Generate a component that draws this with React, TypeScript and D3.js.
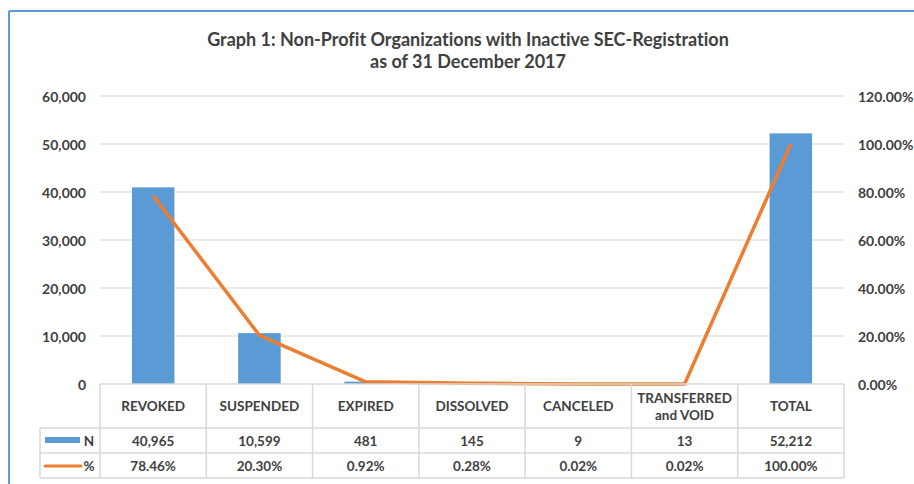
import React from "react";
import * as d3 from "d3";

const categories = ["REVOKED", "SUSPENDED", "EXPIRED", "DISSOLVED", "CANCELED", "TRANSFERRED and VOID", "TOTAL"];
const countValues = [40965, 10599, 481, 145, 9, 13, 52212];
const percentValues = [78.46, 20.3, 0.92, 0.28, 0.02, 0.02, 100.0];
const leftTicks = [0, 10000, 20000, 30000, 40000, 50000, 60000];
const rightTicks = [0, 20, 40, 60, 80, 100, 120];

const W = 914;
const H = 484;
const FONT = "Lato, 'Open Sans', sans-serif";
const TEXT = "#404040";
const GRID = "#d9d9d9";
const BLUE = "#5b9bd5";
const ORANGE = "#ed7d31";

const App = () => {
  const plotLeft = 100;
  const plotRight = 844;
  const plotTop = 96;
  const plotBottom = 384;
  const headerBottom = 428;
  const row1Bottom = 453;
  const row2Bottom = 478;
  const legendLeft = 40;

  const x = d3.scaleBand().domain(categories).range([plotLeft, plotRight]);
  const yLeft = d3.scaleLinear().domain([0, 60000]).range([plotBottom, plotTop]);
  const yRight = d3.scaleLinear().domain([0, 120]).range([plotBottom, plotTop]);
  const barW = x.bandwidth() * 0.4;
  const cx = (c: string) => (x(c) as number) + x.bandwidth() / 2;

  const line = d3
    .line<number>()
    .x((_, i) => cx(categories[i]))
    .y((d) => yRight(d));

  const fmtN = d3.format(",");
  const fmtP = (v: number) => v.toFixed(2) + "%";

  const cellText = (label: string, xc: number, y0: number, y1: number) => {
    const parts = label === "TRANSFERRED and VOID" ? ["TRANSFERRED", "and VOID"] : [label];
    const mid = (y0 + y1) / 2;
    const lh = 17;
    return parts.map((p, i) => (
      <text
        key={i}
        x={xc}
        y={mid + (i - (parts.length - 1) / 2) * lh}
        textAnchor="middle"
        dominantBaseline="central"
        fontSize={13.5}
        fontWeight="bold"
        fill={TEXT}
      >
        {p}
      </text>
    ));
  };

  return (
    <div style={{ position: "fixed", left: 0, top: 0 }}>
      <svg width={W} height={H} style={{ display: "block", fontFamily: FONT, fontVariantLigatures: "none" }}>
        <rect x={0} y={0} width={W} height={H} fill="#fff" />
        {/* outer chart border */}
        <line x1={9} y1={11} x2={W} y2={11} stroke={BLUE} strokeWidth={2} />
        <line x1={9} y1={11} x2={9} y2={H} stroke={BLUE} strokeWidth={2} />

        {/* title */}
        <text x={468} y={46} textAnchor="middle" fontSize={18} fontWeight="bold" fill={TEXT}>
          Graph 1: Non-Profit Organizations with Inactive SEC-Registration
        </text>
        <text x={468} y={68} textAnchor="middle" fontSize={18} fontWeight="bold" fill={TEXT}>
          as of 31 December 2017
        </text>

        {/* gridlines */}
        {leftTicks.slice(1).map((t) => (
          <line key={t} x1={plotLeft} x2={plotRight} y1={yLeft(t)} y2={yLeft(t)} stroke={GRID} strokeWidth={1} />
        ))}

        {/* left axis labels */}
        {leftTicks.map((t) => (
          <text key={t} x={86} y={yLeft(t)} textAnchor="end" dominantBaseline="central" fontSize={14} fontWeight="bold" fill={TEXT}>
            {fmtN(t)}
          </text>
        ))}

        {/* right axis labels */}
        {rightTicks.map((t) => (
          <text key={t} x={858} y={yRight(t)} textAnchor="start" dominantBaseline="central" fontSize={14} fontWeight="bold" fill={TEXT}>
            {t.toFixed(2) + "%"}
          </text>
        ))}

        {/* bars */}
        {countValues.map((v, i) => (
          <rect
            key={i}
            x={cx(categories[i]) - barW / 2}
            y={yLeft(v)}
            width={barW}
            height={plotBottom - yLeft(v)}
            fill={BLUE}
          />
        ))}

        {/* line */}
        <path d={line(percentValues) || ""} fill="none" stroke={ORANGE} strokeWidth={3.5} strokeLinejoin="round" />

        {/* data table */}
        <g stroke={GRID} strokeWidth={1.5} fill="none">
          <line x1={plotLeft} x2={plotRight} y1={plotBottom} y2={plotBottom} />
          <line x1={legendLeft} x2={plotRight} y1={headerBottom} y2={headerBottom} />
          <line x1={legendLeft} x2={plotRight} y1={row1Bottom} y2={row1Bottom} />
          <line x1={legendLeft} x2={plotRight} y1={row2Bottom} y2={row2Bottom} />
          <line x1={legendLeft} x2={legendLeft} y1={headerBottom} y2={row2Bottom} />
          {categories.map((c) => (
            <line key={c} x1={x(c) as number} x2={x(c) as number} y1={plotBottom} y2={row2Bottom} />
          ))}
          <line x1={plotRight} x2={plotRight} y1={plotBottom} y2={row2Bottom} />
        </g>

        {categories.map((c) => (
          <g key={c}>{cellText(c, cx(c), plotBottom, headerBottom)}</g>
        ))}
        {countValues.map((v, i) => (
          <g key={i}>{cellText(fmtN(v), cx(categories[i]), headerBottom, row1Bottom)}</g>
        ))}
        {percentValues.map((v, i) => (
          <g key={i}>{cellText(fmtP(v), cx(categories[i]), row1Bottom, row2Bottom)}</g>
        ))}

        {/* legend keys */}
        <rect x={45} y={437} width={35} height={6} fill={BLUE} />
        <text x={89} y={(headerBottom + row1Bottom) / 2} textAnchor="middle" dominantBaseline="central" fontSize={13.5} fontWeight="bold" fill={TEXT}>
          N
        </text>
        <line x1={45} x2={81} y1={466} y2={466} stroke={ORANGE} strokeWidth={3} strokeLinecap="round" />
        <text x={89} y={(row1Bottom + row2Bottom) / 2} textAnchor="middle" dominantBaseline="central" fontSize={13.5} fontWeight="bold" fill={TEXT}>
          %
        </text>
      </svg>
    </div>
  );
};

export default App;
